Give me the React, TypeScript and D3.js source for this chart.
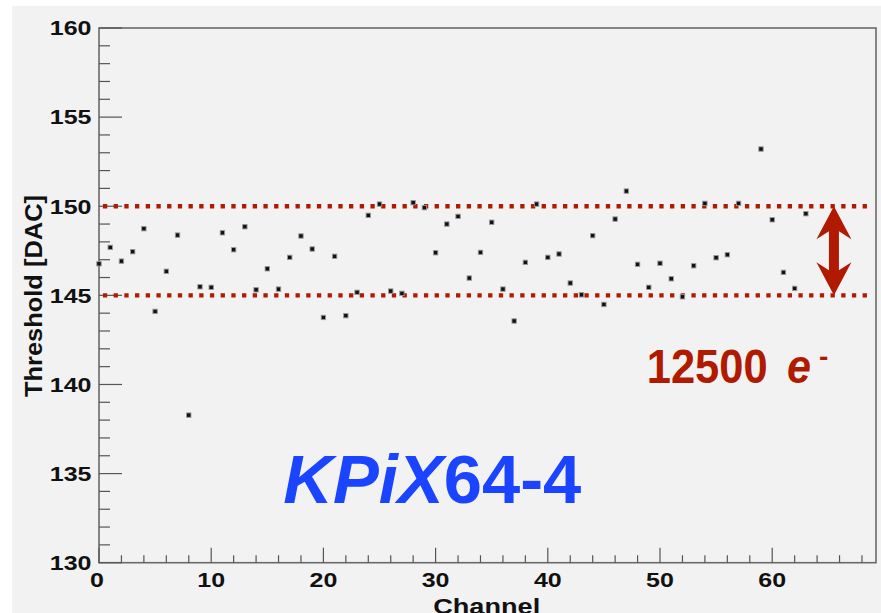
import React, { useEffect, useRef } from 'react'
import * as d3 from 'd3'

// threshold per channel (DAC); channel 58 has no point
const channels = d3.range(0, 64)
const thresholds: (number | null)[] = [
  146.77, 147.69, 146.92, 147.45, 148.74, 144.1, 146.35, 148.38, 138.28, 145.48,
  145.45, 148.51, 147.56, 148.85, 145.31, 146.49, 145.35, 147.13, 148.33, 147.6,
  143.76, 147.19, 143.86, 145.17, 149.49, 150.12, 145.24, 145.11, 150.2, 149.92,
  147.39, 149.0, 149.43, 145.97, 147.41, 149.1, 145.35, 143.56, 146.85, 150.12,
  147.13, 147.32, 145.69, 145.03, 148.35, 144.49, 149.28, 150.85, 146.74, 145.45,
  146.8, 145.93, 144.92, 146.66, 150.16, 147.11, 147.28, 150.16, null, 153.21,
  149.24, 146.29, 145.39, 149.58,
]
const bandLevels = [150, 145]
const yTickLabels = [130, 135, 140, 145, 150, 155, 160]
const xTickLabels = [0, 10, 20, 30, 40, 50, 60]

const FONT = '"Liberation Sans", Arial, Helvetica, sans-serif'
const RED = '#b01a00'

export default function App() {
  const svgRef = useRef<SVGSVGElement>(null)

  useEffect(() => {
    if (!svgRef.current) return
    const svg = d3.select(svgRef.current)
    svg.selectAll('*').remove()

    const x = d3.scaleLinear().domain([0, 69.25]).range([99, 876])
    const y = d3.scaleLinear().domain([130, 160]).range([562.7, 28])

    // canvas
    svg.append('rect')
      .attr('x', 12).attr('y', 6)
      .attr('width', 869).attr('height', 607)
      .attr('fill', '#f2f2f2')

    // frame
    svg.append('rect')
      .attr('x', x(0)).attr('y', y(160))
      .attr('width', x(69.25) - x(0)).attr('height', y(130) - y(160))
      .attr('fill', 'none')
      .attr('stroke', '#6a6a6a')
      .attr('stroke-width', 1.6)

    // y ticks
    const yMinor = d3.range(130, 161, 1)
    svg.append('g').selectAll('line').data(yMinor).join('line')
      .attr('x1', x(0)).attr('x2', (d) => x(0) + (d % 5 === 0 ? 23 : 11))
      .attr('y1', (d) => y(d)).attr('y2', (d) => y(d))
      .attr('stroke', '#555').attr('stroke-width', 1.2)

    svg.append('g').selectAll('text').data(yTickLabels).join('text')
      .attr('x', 91.5)
      .attr('y', (d) => y(d))
      .attr('dy', '0.36em')
      .attr('text-anchor', 'end')
      .attr('font-family', FONT)
      .attr('font-weight', 'bold')
      .attr('font-size', 20.5)
      .attr('textLength', (d) => String(d).length * 13.9)
      .attr('lengthAdjust', 'spacingAndGlyphs')
      .attr('fill', '#111')
      .text((d) => d)

    // x ticks
    const xMinor = d3.range(0, 70, 2)
    svg.append('g').selectAll('line').data(xMinor).join('line')
      .attr('x1', (d) => x(d)).attr('x2', (d) => x(d))
      .attr('y1', y(130)).attr('y2', (d) => y(130) - (d % 10 === 0 ? 15 : 7.5))
      .attr('stroke', '#555').attr('stroke-width', 1.2)

    svg.append('g').selectAll('text').data(xTickLabels).join('text')
      .attr('x', (d) => x(d) - (d === 0 ? 2 : 0))
      .attr('y', 587)
      .attr('text-anchor', 'middle')
      .attr('font-family', FONT)
      .attr('font-weight', 'bold')
      .attr('font-size', 20.5)
      .attr('textLength', (d) => String(d).length * 13.9)
      .attr('lengthAdjust', 'spacingAndGlyphs')
      .attr('fill', '#111')
      .text((d) => d)

    // axis titles
    svg.append('text')
      .attr('x', 486.7).attr('y', 614)
      .attr('text-anchor', 'middle')
      .attr('font-family', FONT).attr('font-weight', 'bold')
      .attr('font-size', 22)
      .attr('textLength', 107).attr('lengthAdjust', 'spacingAndGlyphs')
      .attr('fill', '#111')
      .text('Channel')

    svg.append('text')
      .attr('transform', 'translate(41.5,296) rotate(-90)')
      .attr('text-anchor', 'middle')
      .attr('font-family', FONT).attr('font-weight', 'bold')
      .attr('font-size', 23)
      .attr('textLength', 202).attr('lengthAdjust', 'spacingAndGlyphs')
      .attr('fill', '#111')
      .text('Threshold [DAC]')

    // dotted band lines
    svg.append('g').selectAll('line').data(bandLevels).join('line')
      .attr('x1', x(0.35)).attr('x2', x(68.8))
      .attr('y1', (d) => y(d)).attr('y2', (d) => y(d))
      .attr('stroke', RED)
      .attr('stroke-width', 4.3)
      .attr('stroke-dasharray', '4.3 6.4')

    // points
    const pts = channels
      .map((c) => ({ c, v: thresholds[c] }))
      .filter((p) => p.v !== null) as { c: number; v: number }[]
    svg.append('g').selectAll('rect').data(pts).join('rect')
      .attr('x', (d) => x(d.c) - 2.2)
      .attr('y', (d) => y(d.v) - 2.2)
      .attr('width', 4.4).attr('height', 4.4)
      .attr('fill', '#111')
      .attr('stroke', '#9a9a9a')
      .attr('stroke-width', 0.9)

    // double arrow
    const ax = x(65.5)
    const yt = y(150)
    const yb = y(145)
    const hw = 17.5
    const hl = 33
    const sw = 5
    const arrow = d3.path()
    arrow.moveTo(ax, yt)
    arrow.lineTo(ax + hw, yt + hl)
    arrow.lineTo(ax + sw, yt + hl - 8)
    arrow.lineTo(ax + sw, yb - hl + 8)
    arrow.lineTo(ax + hw, yb - hl)
    arrow.lineTo(ax, yb)
    arrow.lineTo(ax - hw, yb - hl)
    arrow.lineTo(ax - sw, yb - hl + 8)
    arrow.lineTo(ax - sw, yt + hl - 8)
    arrow.lineTo(ax - hw, yt + hl)
    arrow.closePath()
    svg.append('path').attr('d', arrow.toString()).attr('fill', RED)

    // annotation 12500 e-
    svg.append('text')
      .attr('x', 646.7).attr('y', 383.3)
      .attr('font-family', FONT).attr('font-weight', 'bold')
      .attr('font-size', 48)
      .attr('textLength', 121).attr('lengthAdjust', 'spacingAndGlyphs')
      .attr('fill', RED)
      .text('12500')
    svg.append('text')
      .attr('x', 787).attr('y', 383.3)
      .attr('font-family', FONT).attr('font-weight', 'bold').attr('font-style', 'italic')
      .attr('font-size', 48)
      .attr('textLength', 24).attr('lengthAdjust', 'spacingAndGlyphs')
      .attr('fill', RED)
      .text('e')
    svg.append('text')
      .attr('x', 819).attr('y', 366)
      .attr('font-family', FONT).attr('font-weight', 'bold')
      .attr('font-size', 28)
      .attr('fill', RED)
      .text('-')

    // chip name
    const label = svg.append('text')
      .attr('x', 283.3).attr('y', 503.3)
      .attr('font-family', FONT).attr('font-weight', 'bold')
      .attr('font-size', 69)
      .attr('textLength', 298).attr('lengthAdjust', 'spacingAndGlyphs')
      .attr('fill', '#1a44ff')
    label.append('tspan').attr('font-style', 'italic').text('KPiX')
    label.append('tspan').text('64-4')
  }, [])

  return (
    <svg
      ref={svgRef}
      width={881}
      height={613}
      style={{ position: 'absolute', left: 0, top: 0, background: '#fff' }}
    />
  )
}
